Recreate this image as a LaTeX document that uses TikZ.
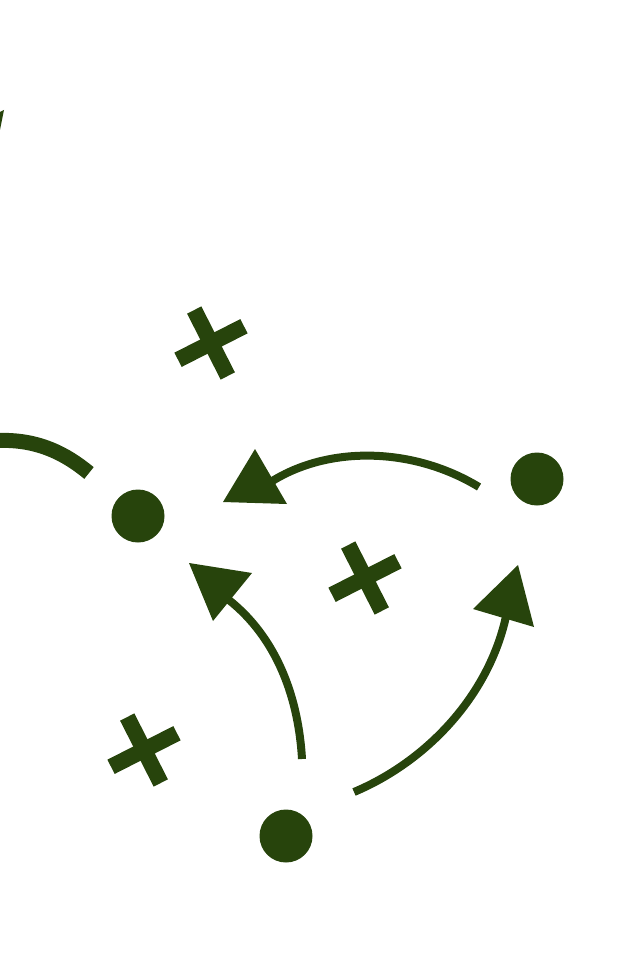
\documentclass[tikz,border=0pt]{standalone}
\usepackage{tikz}
\definecolor{ink}{RGB}{39,68,12}
\tikzset{
  shaft/.style={draw=ink, line width=8pt, line cap=butt},
  headtri/.style={fill=ink, draw=none},
  dotmark/.style={circle, fill=ink, draw=none, minimum size=53pt, inner sep=0pt},
  bar/.style={draw=ink, line width=16pt, line cap=butt}
}
\newcommand{\crossmark}[2]{%
  \begin{scope}[shift={(#1,#2)}]
    \draw[bar] (-27:-37) -- (-27:37);
    \draw[bar] (63:-37) -- (63:37);
  \end{scope}}
\begin{document}
\begin{tikzpicture}[x=1pt, y=-1pt]
\useasboundingbox (0,0) rectangle (640,955);
% dots
\node[dotmark] (d1) at (138,516) {};
\node[dotmark] (d2) at (537,479) {};
\node[dotmark] (d3) at (286,836) {};
% crosses
\crossmark{211}{343}
\crossmark{365}{578}
\crossmark{144}{750}
% arrow 1: from right dot to left
\coordinate (a1s) at (479,487);
\coordinate (a1e) at (262,488);
\draw[shaft] (a1s) .. controls (410,445) and (320,445) .. (a1e);
\fill[headtri] (223,502) -- (255,449) -- (287,504) -- cycle;
% arrow 2: from bottom dot up to left dot
\coordinate (a2s) at (302,759);
\coordinate (a2e) at (225,597);
\draw[shaft] (a2s) .. controls (298,690) and (272,632) .. (a2e);
\fill[headtri] (189,563) -- (252,573) -- (213,621) -- cycle;
% arrow 3: from bottom dot up to right dot
\coordinate (a3s) at (354,792);
\coordinate (a3e) at (508,606);
\draw[shaft] (a3s) .. controls (430,760) and (494,690) .. (a3e);
\fill[headtri] (518,565) -- (473,609) -- (534,627) -- cycle;
% left partial arc
\draw[draw=ink, line width=15pt, line cap=butt] (-2,440.5) .. controls (38,439) and (66,454) .. (89,473);
% top-left clipped sliver
\fill[headtri] (0,112) -- (4,110) -- (0,130) -- cycle;
\end{tikzpicture}
\end{document}
